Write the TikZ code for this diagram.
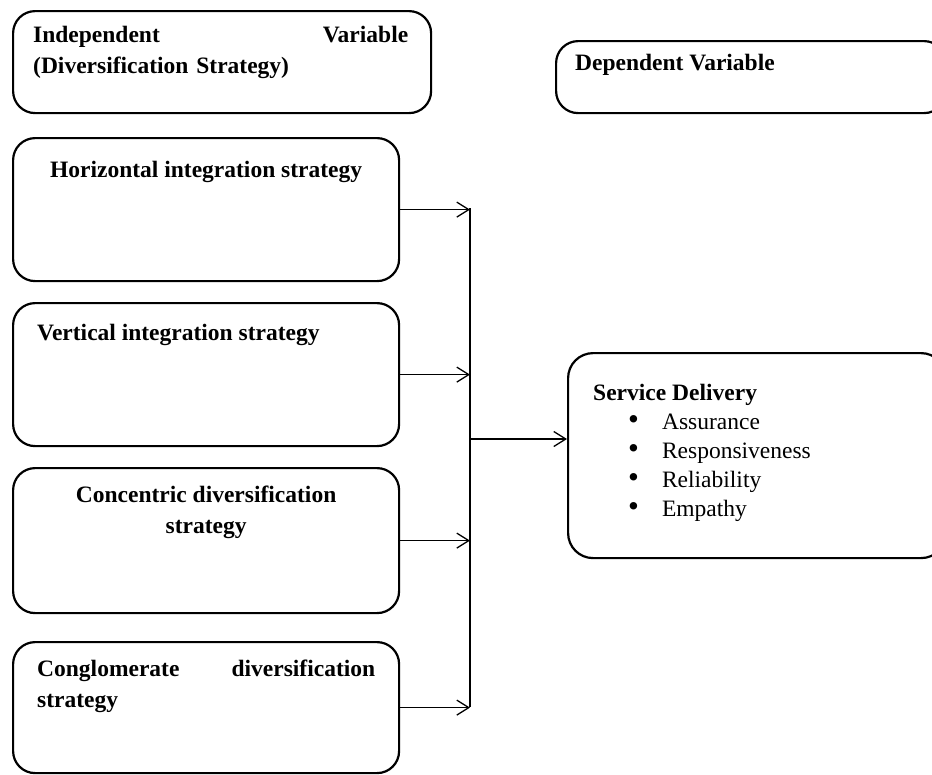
\documentclass[tikz,border=0pt]{standalone}
\usepackage{fontspec}
\setmainfont{Liberation Serif}
\usetikzlibrary{arrows.meta}

\newcommand{\blt}{{\fontsize{31}{29}\selectfont\textbullet}}

\tikzset{
  box/.style={draw, line width=2.2pt, rounded corners=22pt, anchor=north west, inner sep=0pt},
  lbl/.style={font=\fontsize{23.5}{31}\selectfont\bfseries, inner sep=0pt, anchor=north west},
  item/.style={font=\fontsize{23.5}{29}\selectfont, inner sep=0pt, anchor=north west, align=left},
  link/.style={line width=1.3pt, ->},
}

\begin{document}
\begin{tikzpicture}[x=1pt,y=-1pt,>={Straight Barb[length=12pt,width=15pt]}]
\clip (0,0) rectangle (932,774);

\node[box, minimum width=418pt, minimum height=102pt] (indep) at (12,10) {};
\node[box, minimum width=390pt, minimum height=72pt] (dep) at (555,40) {};
\node[box, minimum width=386pt, minimum height=143pt] (horiz) at (12,137) {};
\node[box, minimum width=386pt, minimum height=143pt] (vert) at (12,302) {};
\node[box, minimum width=386pt, minimum height=145pt] (conc) at (12,467) {};
\node[box, minimum width=386pt, minimum height=131pt] (cong) at (12,641) {};
\node[box, rounded corners=25pt, minimum width=378pt, minimum height=205pt] (serv) at (567,352) {};

\node[lbl, text width=375pt, align=left] (indeptxt) at (33,26) {Independent\hfill Variable\\(Diversification Strategy)};
\node[lbl] (deptxt) at (575,54) {Dependent Variable};
\node[lbl, anchor=north, align=center] (horiztxt) at (horiz.north |- 0,161) {Horizontal integration strategy};
\node[lbl] (verttxt) at (37,324) {Vertical integration strategy};
\node[lbl, anchor=north, align=center] (conctxt) at (conc.north |- 0,486) {Concentric diversification\\strategy};
\node[lbl, text width=338pt, align=left] (congtxt) at (37,660) {Conglomerate\hfill diversification\\strategy};
\node[item] (servtxt) at (593,384) {\textbf{Service Delivery}\\
  \hspace*{35pt}\blt\hspace{23pt}Assurance\\
  \hspace*{35pt}\blt\hspace{23pt}Responsiveness\\
  \hspace*{35pt}\blt\hspace{23pt}Reliability\\
  \hspace*{35pt}\blt\hspace{23pt}Empathy};

\coordinate (top) at (470,208);
\coordinate (bot) at (470,707);
\coordinate (hub) at (470,439);

\draw[link] (horiz.east) -- (horiz.east -| top);
\draw[link] (vert.east) -- (vert.east -| top);
\draw[link] (conc.east) -- (conc.east -| top);
\draw[link] (cong.east) -- (cong.east -| top);
\draw[line width=1.3pt] (top) -- (bot);
\draw[link] (hub) -- (serv.west |- hub);
\end{tikzpicture}
\end{document}
